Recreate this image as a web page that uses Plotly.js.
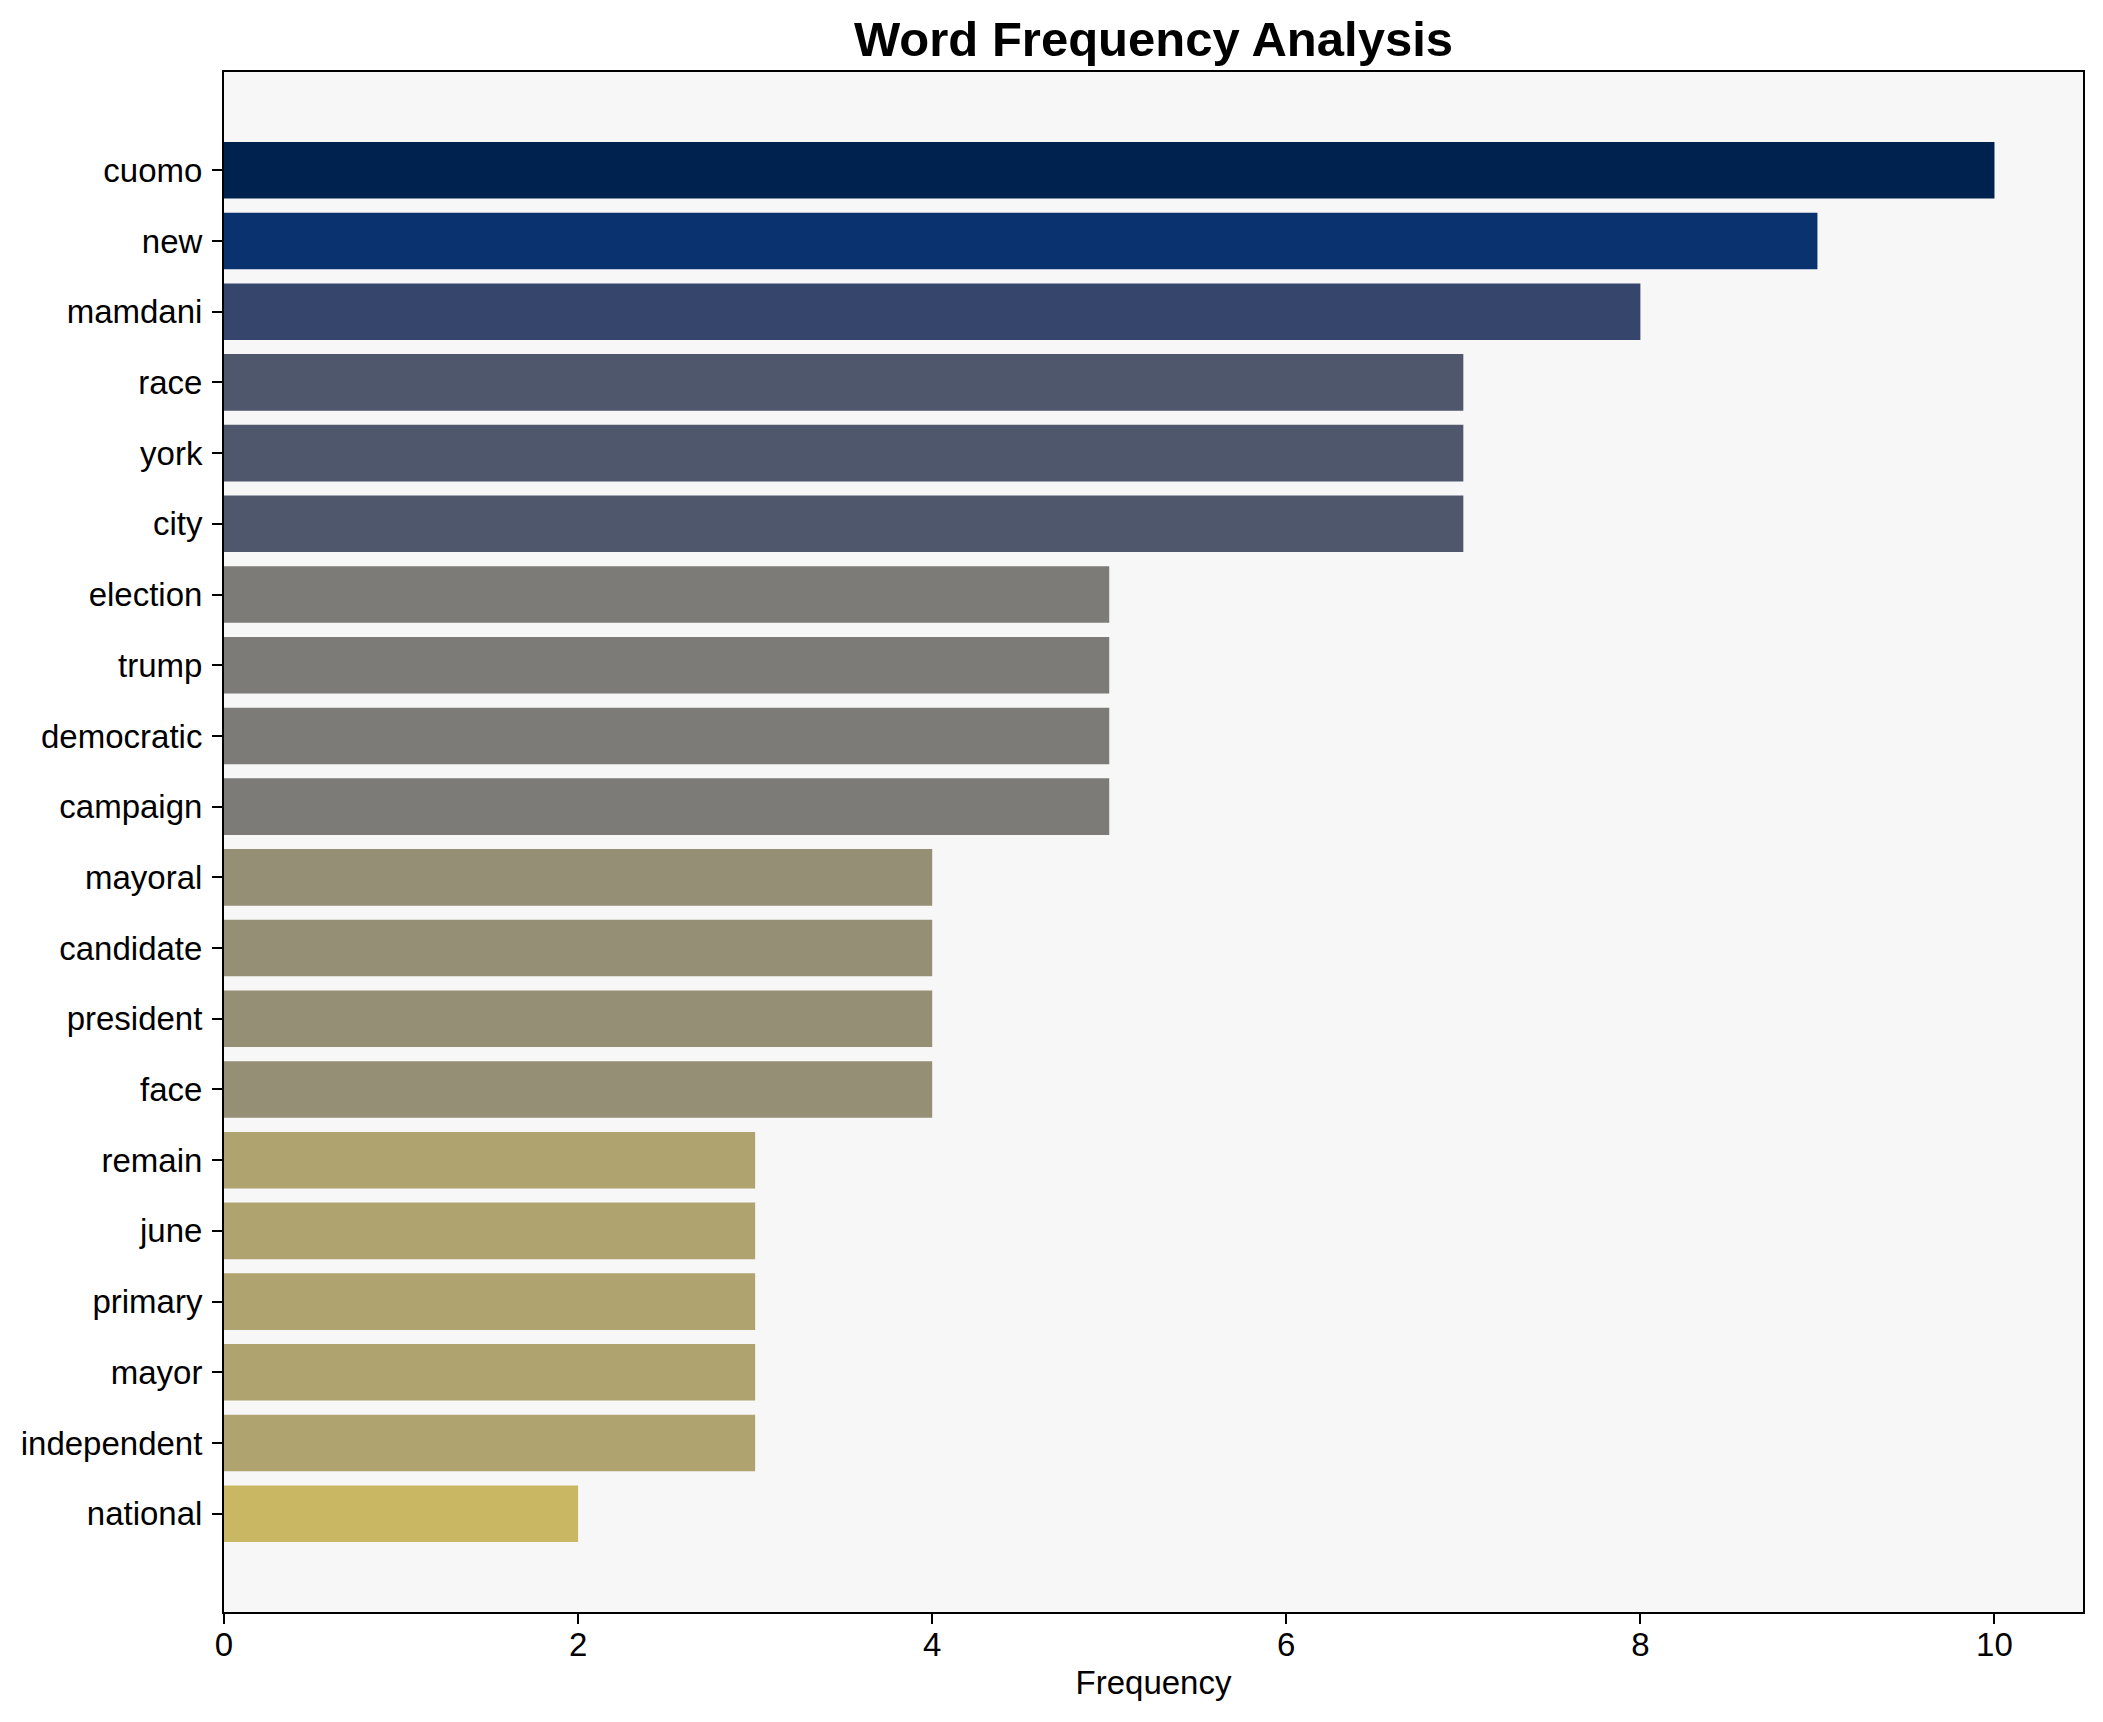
<!DOCTYPE html>
<html>
<head>
<meta charset="utf-8">
<script src="https://cdn.plot.ly/plotly-3.0.1.min.js"></script>
<style>html,body{margin:0;padding:0;background:#fff;}#chart{width:2103px;height:1722px;}</style>
</head>
<body>
<div id="chart"></div>
<script>
const words = ["cuomo","new","mamdani","race","york","city","election","trump","democratic","campaign","mayoral","candidate","president","face","remain","june","primary","mayor","independent","national"];
const frequency = [10,9,8,7,7,7,5,5,5,5,4,4,4,4,3,3,3,3,3,2];
const xTicks = [0,2,4,6,8,10];
const colorByValue = {10:"#00224e",9:"#0a326f",8:"#35456c",7:"#4f576c",5:"#7c7b78",4:"#958f76",3:"#afa370",2:"#c9b763"};

const barColors = frequency.map(v => colorByValue[v]);
const font = "Liberation Sans, Arial, sans-serif";

const trace = {
  type: "bar",
  orientation: "h",
  x: frequency,
  y: words,
  width: 0.8,
  marker: {color: barColors, line: {width: 0}},
  hoverinfo: "x+y"
};

const layout = {
  width: 2103,
  height: 1722,
  margin: {l: 224, r: 20, t: 72, b: 110, pad: 0},
  paper_bgcolor: "#ffffff",
  plot_bgcolor: "#f7f7f7",
  showlegend: false,
  font: {family: font, color: "#000", size: 33},
  title: {
    text: "<b>Word Frequency Analysis</b>",
    font: {family: font, size: 49, color: "#000"},
    x: 0.5, xref: "paper", xanchor: "center",
    y: 1 - 39/1722, yref: "container", yanchor: "middle"
  },
  xaxis: {
    range: [0, 10.5],
    tickvals: xTicks,
    ticktext: xTicks.map(String),
    ticks: "outside", ticklen: 10, tickwidth: 2, tickcolor: "#000",
    showline: true, linecolor: "#000", linewidth: 2, mirror: true,
    showgrid: false, zeroline: false,
    ticklabelstandoff: -8,
    tickfont: {family: font, size: 33, color: "#000"},
    title: {text: "Frequency", font: {family: font, size: 33, color: "#000"}, standoff: 9},
    automargin: false
  },
  yaxis: {
    type: "category",
    range: [words.length - 1 + 1.39, -1.39],
    ticks: "outside", ticklen: 10, tickwidth: 2, tickcolor: "#000",
    showline: true, linecolor: "#000", linewidth: 2, mirror: true,
    showgrid: false, zeroline: false,
    ticklabelstandoff: 3,
    tickfont: {family: font, size: 33, color: "#000"},
    automargin: false
  }
};

Plotly.newPlot("chart", [trace], layout, {staticPlot: true, displayModeBar: false});
</script>
</body>
</html>
